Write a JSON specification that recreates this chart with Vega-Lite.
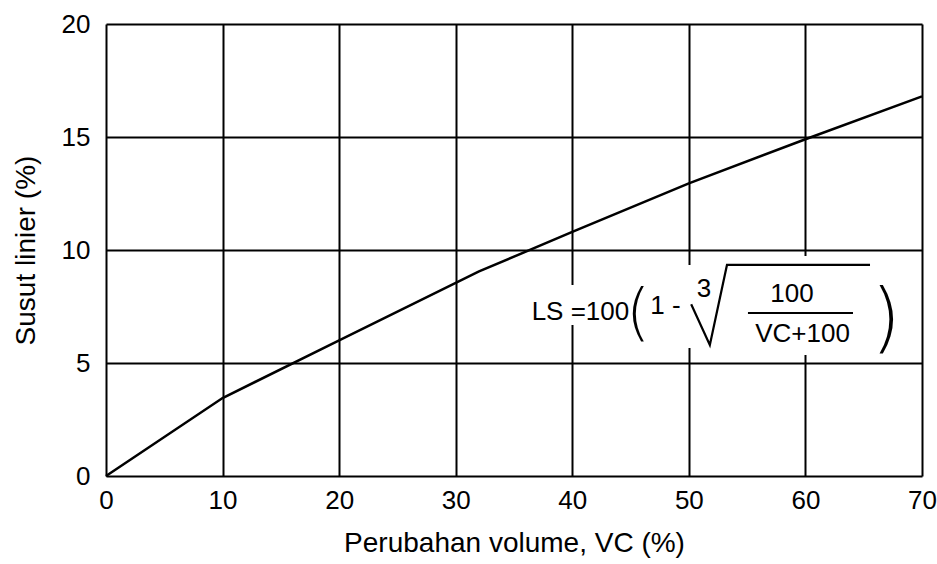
{
  "$schema": "https://vega.github.io/schema/vega-lite/v6.json",
  "width": 816,
  "height": 452,
  "autosize": {"type": "none"},
  "padding": {"left": 106, "top": 24, "right": 15, "bottom": 88},
  "background": "white",
  "config": {
    "view": {"stroke": null},
    "font": "Liberation Sans",
    "axis": {
      "grid": true,
      "gridColor": "#000000",
      "gridWidth": 2,
      "gridOpacity": 1,
      "domain": false,
      "ticks": false,
      "labelFlush": false,
      "labelFont": "Liberation Sans",
      "labelFontSize": 26,
      "labelColor": "#000000",
      "titleFont": "Liberation Sans",
      "titleFontSize": 28,
      "titleFontWeight": "normal",
      "titleColor": "#000000"
    }
  },
  "datasets": {
    "curve": [
      {"VC": 0, "LS": 0},
      {"VC": 10, "LS": 3.45},
      {"VC": 20, "LS": 6.0},
      {"VC": 32, "LS": 9.05},
      {"VC": 40, "LS": 10.8},
      {"VC": 50, "LS": 12.95},
      {"VC": 60, "LS": 14.9},
      {"VC": 70, "LS": 16.8}
    ],
    "masks": [
      {"x1": 38.8, "x2": 41.2, "y1": 6.68, "y2": 8.45},
      {"x1": 48.8, "x2": 51.2, "y1": 5.66, "y2": 9.34},
      {"x1": 58.8, "x2": 61.2, "y1": 5.35, "y2": 9.73}
    ],
    "formula": [
      {"t": "LS =100", "VC": 40.7, "LS": 7.26},
      {"t": "1 -", "VC": 48.0, "LS": 7.52},
      {"t": "3", "VC": 51.3, "LS": 8.27},
      {"t": "100", "VC": 58.85, "LS": 8.05},
      {"t": "VC+100", "VC": 59.75, "LS": 6.28}
    ],
    "radical": [
      {"i": 1, "VC": 50.2, "LS": 7.6},
      {"i": 2, "VC": 51.8, "LS": 5.8},
      {"i": 3, "VC": 53.27, "LS": 9.34},
      {"i": 4, "VC": 65.54, "LS": 9.34}
    ],
    "bar": [{"VC": 55.07, "VC2": 64.08, "LS": 7.21}],
    "lparen": [{"t": "(", "VC": 45.65, "LS": 7.17}],
    "rparen": [{"t": ")", "VC": 66.91, "LS": 6.9}]
  },
  "encoding": {
    "x": {"field": "VC", "type": "quantitative"},
    "y": {"field": "LS", "type": "quantitative"}
  },
  "layer": [
    {
      "data": {"name": "curve"},
      "mark": {"type": "line", "color": "#000000", "strokeWidth": 2.5},
      "encoding": {
        "x": {"field": "VC", "type": "quantitative",
          "scale": {"domain": [0, 70], "nice": false},
          "axis": {"values": [0, 10, 20, 30, 40, 50, 60, 70], "labelPadding": 11, "title": "Perubahan volume, VC (%)", "titlePadding": 16}},
        "y": {"field": "LS", "type": "quantitative",
          "scale": {"domain": [0, 20], "nice": false},
          "axis": {"values": [0, 5, 10, 15, 20], "labelPadding": 16, "title": "Susut linier (%)", "titlePadding": 21}}
      }
    },
    {
      "data": {"name": "masks"},
      "mark": {"type": "rect", "color": "white"},
      "encoding": {
        "x": {"field": "x1", "type": "quantitative"},
        "x2": {"field": "x2"},
        "y": {"field": "y1", "type": "quantitative"},
        "y2": {"field": "y2"}
      }
    },
    {
      "data": {"name": "formula"},
      "mark": {"type": "text", "fontSize": 26, "font": "Liberation Sans", "color": "#000000", "baseline": "middle", "align": "center"},
      "encoding": {"text": {"field": "t"}}
    },
    {
      "data": {"name": "radical"},
      "mark": {"type": "line", "color": "#000000", "strokeWidth": 2.2},
      "encoding": {"order": {"field": "i"}}
    },
    {
      "data": {"name": "bar"},
      "mark": {"type": "rule", "color": "#000000", "strokeWidth": 2},
      "encoding": {"x2": {"field": "VC2"}}
    },
    {
      "data": {"name": "lparen"},
      "mark": {"type": "text", "fontSize": 62, "font": "DejaVu Sans", "fontWeight": 200, "color": "#000000", "baseline": "middle", "align": "center"},
      "encoding": {"text": {"field": "t"}}
    },
    {
      "data": {"name": "rparen"},
      "mark": {"type": "text", "fontSize": 76, "font": "DejaVu Sans", "fontWeight": 200, "color": "#000000", "baseline": "middle", "align": "center"},
      "encoding": {"text": {"field": "t"}}
    }
  ]
}
